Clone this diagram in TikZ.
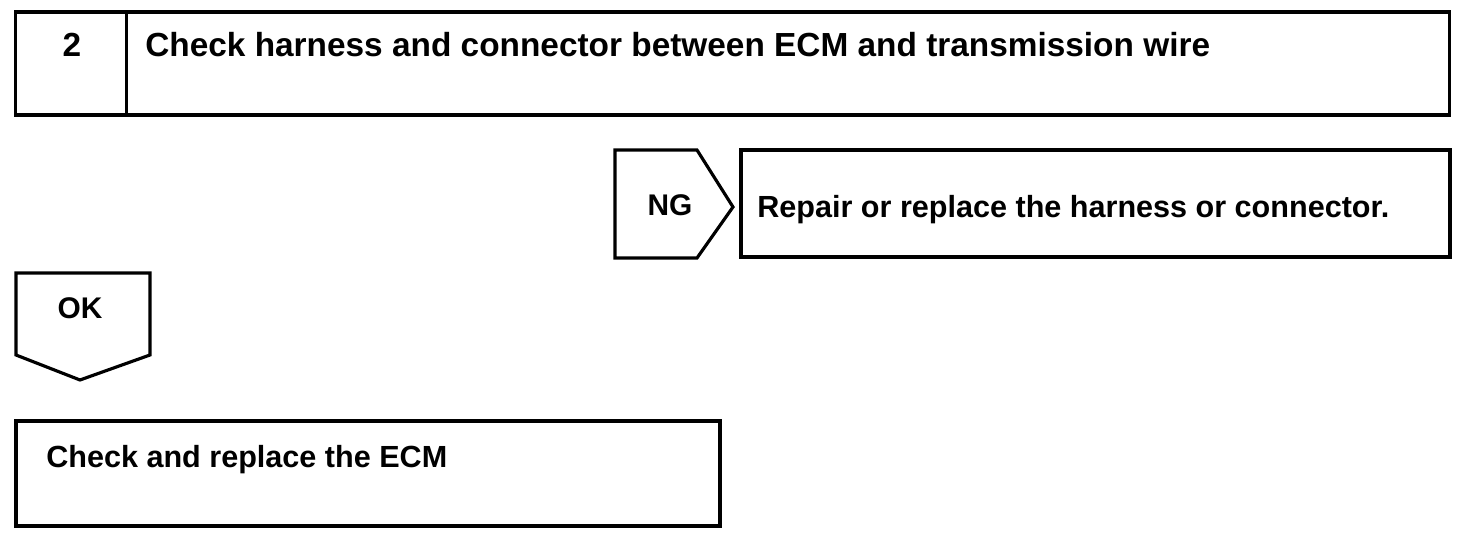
\documentclass[tikz,border=0pt]{standalone}
\usepackage{fontspec}
\setmainfont{Liberation Sans}
\usetikzlibrary{positioning}

\begin{document}
\begin{tikzpicture}[
    x=0.02cm, y=-0.02cm,
    box/.style={draw, line width=1.8pt, inner sep=0pt},
    edge/.style={line width=1.8pt, line join=miter},
    lbl/.style={font=\bfseries\fontsize{17.4}{20}\selectfont, inner sep=0pt},
    biglbl/.style={font=\bfseries\fontsize{19}{22}\selectfont, inner sep=0pt},
    taglbl/.style={font=\bfseries\fontsize{17}{20}\selectfont, inner sep=0pt}
]
    \useasboundingbox (0,0) rectangle (1472,546);

    % Step header
    \node[box, minimum width=28.7cm, minimum height=2.06cm] (stepbox) at (732.5,63.5) {};
    \draw[edge] ([xshift=2.26cm]stepbox.north west) -- ([xshift=2.26cm]stepbox.south west);
    \node[biglbl, anchor=base] (stepnum) at (72,57) {2};
    \node[biglbl, anchor=base west] (steptitle) at (145,57) {Check harness and connector between ECM and transmission wire};

    % NG branch
    \draw[edge] (615,150) -- (697,150) -- (733,207) -- (697,258) -- (615,258) -- cycle;
    \node[taglbl, anchor=base] (ng) at (670,216) {NG};
    \node[box, minimum width=14.18cm, minimum height=2.14cm] (repair) at (1095.5,203.5) {};
    \node[lbl, anchor=base west] (repairtext) at (757,218) {Repair or replace the harness or connector.};

    % OK branch
    \draw[edge] (16,273) -- (150,273) -- (150,355) -- (80,380) -- (16,355) -- cycle;
    \node[taglbl, anchor=base] (ok) at (80,319) {OK};
    \node[box, minimum width=14.08cm, minimum height=2.1cm] (replace) at (368,473.5) {};
    \node[lbl, anchor=base west] (replacetext) at (46,468) {Check and replace the ECM};
\end{tikzpicture}
\end{document}
